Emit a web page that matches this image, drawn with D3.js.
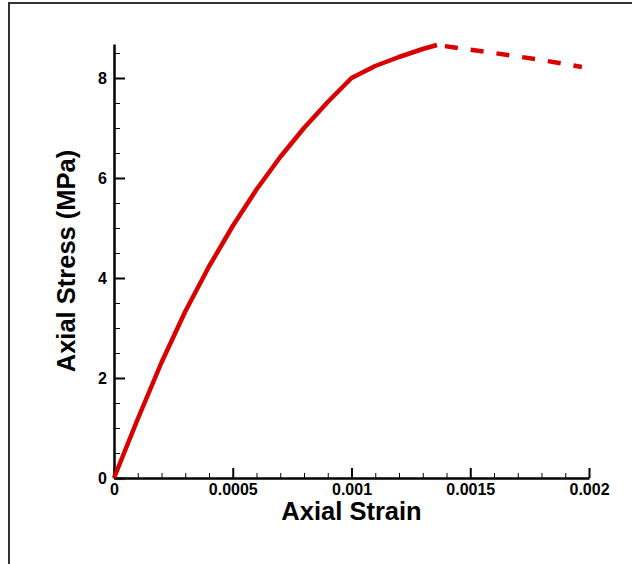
<!DOCTYPE html>
<html lang="en">
<head>
    <meta charset="UTF-8">
    <title>Axial Stress vs Axial Strain</title>
    <style>
        body {
            margin: 0;
            background-color: #ffffff;
            font-family: "Liberation Sans", Arial, sans-serif;
        }
        svg text {
            font-family: "Liberation Sans", Arial, sans-serif;
            font-weight: bold;
        }
    </style>
</head>
<body>
    <svg id="chart"></svg>

    <script src="https://d3js.org/d3.v7.min.js"></script>
    <script>
        // Pre-peak (solid) and post-peak (dashed) branches
        const preStrain  = [0, 0.0001, 0.0002, 0.0003, 0.0004, 0.0005, 0.0006, 0.0007, 0.0008, 0.0009, 0.001, 0.0011, 0.0012, 0.0013, 0.00136];
        const preStress  = [0, 1.18, 2.31, 3.33, 4.23, 5.04, 5.77, 6.42, 7.00, 7.52, 8.00, 8.24, 8.42, 8.58, 8.66];
        const postStrain = [0.00136, 0.0016, 0.0018, 0.00197];
        const postStress = [8.66, 8.50, 8.36, 8.22];

        const xTicks = [0, 0.0005, 0.001, 0.0015, 0.002];
        const xTickLabels = ['0', '0.0005', '0.001', '0.0015', '0.002'];
        const yTicks = [0, 2, 4, 6, 8];
        const yTickLabels = ['0', '2', '4', '6', '8'];

        const width = 632;
        const height = 564;
        const plotLeft = 114, plotRight = 589, plotTop = 44, plotBottom = 478;

        const svg = d3.select('#chart')
            .attr('width', width)
            .attr('height', height)
            .style('display', 'block');

        // frame lines on the top and left edge
        svg.append('path')
            .attr('d', `M9,${height} L9,3 L${width},3`)
            .attr('fill', 'none')
            .attr('stroke', '#333')
            .attr('stroke-width', 2);

        const x = d3.scaleLinear().domain([0, 0.002]).range([plotLeft, plotRight]);
        const y = d3.scaleLinear().domain([0, 8.68]).range([plotBottom, plotTop]);

        // minor ticks
        const xMinor = d3.range(0, 0.00201, 0.0001).filter((d, i) => i % 5 !== 0);
        const yMinor = d3.range(0, 8.6, 0.5).filter((d, i) => i % 4 !== 0);

        svg.append('g')
            .attr('transform', `translate(0,${plotBottom})`)
            .call(d3.axisBottom(x).tickValues(xMinor).tickSize(-5).tickFormat(''))
            .call(g => g.select('.domain').remove())
            .call(g => g.selectAll('line').attr('stroke', '#000').attr('stroke-width', 1));

        svg.append('g')
            .attr('transform', `translate(${plotLeft},0)`)
            .call(d3.axisLeft(y).tickValues(yMinor).tickSize(-6).tickFormat(''))
            .call(g => g.select('.domain').remove())
            .call(g => g.selectAll('line').attr('stroke', '#000').attr('stroke-width', 1));

        // major axes
        const xAxis = svg.append('g')
            .attr('transform', `translate(0,${plotBottom})`)
            .call(d3.axisBottom(x).tickValues(xTicks).tickSize(-10).tickSizeOuter(0).tickPadding(6)
                .tickFormat((d, i) => xTickLabels[i]));

        const yAxis = svg.append('g')
            .attr('transform', `translate(${plotLeft},0)`)
            .call(d3.axisLeft(y).tickValues(yTicks).tickSize(-11).tickSizeOuter(0).tickPadding(7)
                .tickFormat((d, i) => yTickLabels[i]));

        [xAxis, yAxis].forEach(g => {
            g.select('.domain').attr('stroke', '#000').attr('stroke-width', 2.5);
            g.selectAll('.tick line').attr('stroke', '#000').attr('stroke-width', 2);
            g.selectAll('.tick text').attr('fill', '#000').style('font-size', '16px');
        });

        // curve
        const line = d3.line().x(d => x(d[0])).y(d => y(d[1]));
        const pre = preStrain.map((s, i) => [s, preStress[i]]);
        const post = postStrain.map((s, i) => [s, postStress[i]]);

        svg.append('path')
            .attr('d', line(pre))
            .attr('fill', 'none')
            .attr('stroke', '#d90000')
            .attr('stroke-width', 4.5)
            .attr('stroke-linejoin', 'round');

        svg.append('path')
            .attr('d', line(post))
            .attr('fill', 'none')
            .attr('stroke', '#d90000')
            .attr('stroke-width', 4.5)
            .attr('stroke-dasharray', '13,13')
            .attr('stroke-dashoffset', -8);

        // axis titles
        svg.append('text')
            .attr('x', (plotLeft + plotRight) / 2)
            .attr('y', 520)
            .attr('text-anchor', 'middle')
            .style('font-size', '25.5px')
            .text('Axial Strain');

        svg.append('text')
            .attr('transform', `translate(75,${(plotTop + plotBottom) / 2}) rotate(-90)`)
            .attr('text-anchor', 'middle')
            .style('font-size', '25.5px')
            .text('Axial Stress (MPa)');
    </script>
</body>
</html>
